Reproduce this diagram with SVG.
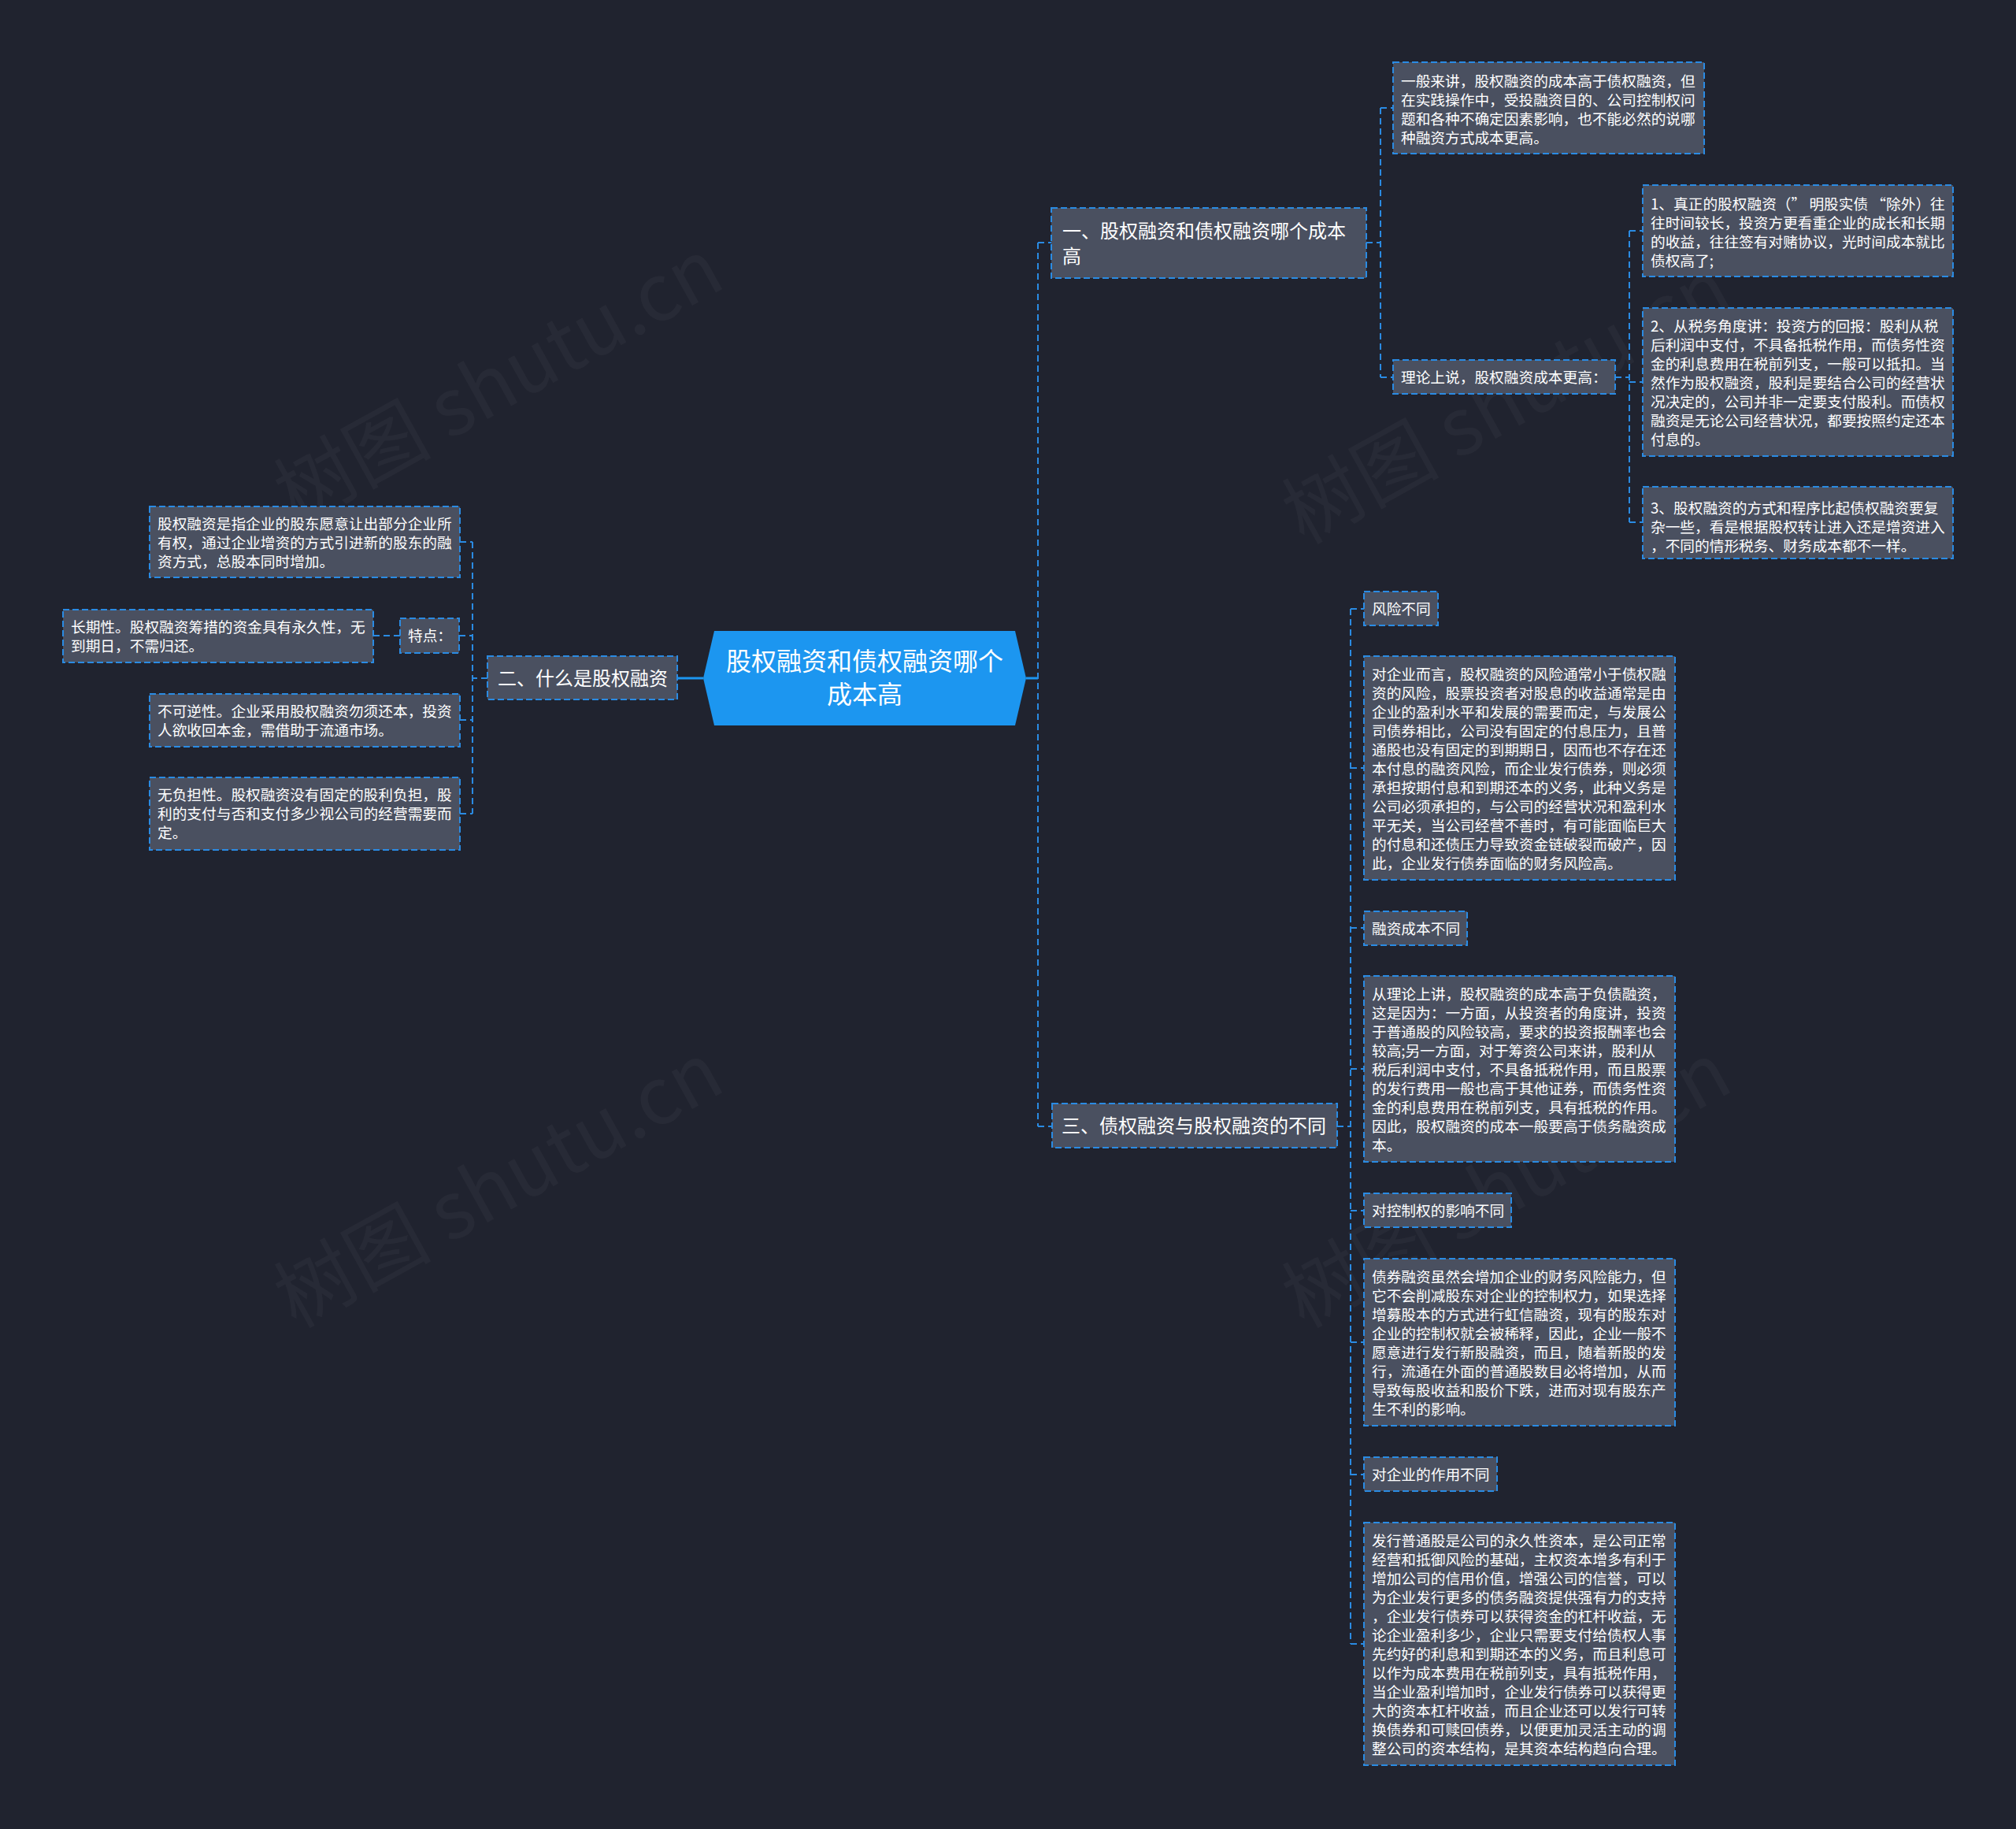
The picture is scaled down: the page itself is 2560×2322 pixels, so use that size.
<svg xmlns="http://www.w3.org/2000/svg" width="2560" height="2322" viewBox="0 0 2560 2322">
<style>
.bg{fill:#20232f}
.n rect{fill:#4a5060;stroke:#2a8be3;stroke-width:2;stroke-dasharray:8 4}
.t{font-family:"Noto Sans CJK SC","Noto Sans",sans-serif;fill:#ffffff;font-size:18.7px}
.m{font-family:"Noto Sans CJK SC","Noto Sans",sans-serif;fill:#ffffff;font-size:24px}
.r{font-family:"Noto Sans CJK SC","Noto Sans",sans-serif;fill:#ffffff;font-size:32px;text-anchor:middle}
.c path{fill:none;stroke:#2a8be3;stroke-width:2;stroke-dasharray:8 5}
.c path.s{stroke:#1c96f0;stroke-width:3;stroke-dasharray:none}
.w{font-family:"Noto Sans CJK SC","Noto Sans",sans-serif;font-size:100px;fill:#ffffff;fill-opacity:0.035}
</style>
<rect class="bg" x="0" y="0" width="2560" height="2322"/>
<g id="watermarks">
<text class="w" transform="translate(650,515) rotate(-29)" text-anchor="middle">树图 shutu.cn</text>
<text class="w" transform="translate(1930,540) rotate(-29)" text-anchor="middle">树图 shutu.cn</text>
<text class="w" transform="translate(650,1535) rotate(-29)" text-anchor="middle">树图 shutu.cn</text>
<text class="w" transform="translate(1930,1535) rotate(-29)" text-anchor="middle">树图 shutu.cn</text>
</g>
<g id="connectors" class="c">
<path class="s" d="M860,861 H893"/>
<path class="s" d="M1303,861 H1318"/>
<path d="M619,861 H600"/>
<path d="M600,688 V1033"/>
<path d="M584,688 H600"/>
<path d="M583,807 H600"/>
<path d="M584,914 H600"/>
<path d="M584,1033 H600"/>
<path d="M474,807 H508"/>
<path d="M1318,308 V1430"/>
<path d="M1318,308 H1335"/>
<path d="M1318,1430 H1336"/>
<path d="M1735,308 H1753"/>
<path d="M1753,137 V479"/>
<path d="M1753,137 H1769"/>
<path d="M1753,479 H1769"/>
<path d="M2051,479 H2069"/>
<path d="M2069,293 V663"/>
<path d="M2069,293 H2086"/>
<path d="M2069,485 H2086"/>
<path d="M2069,663 H2086"/>
<path d="M1698,1430 H1715"/>
<path d="M1715,773 V2087"/>
<path d="M1715,773 H1732"/>
<path d="M1715,975 H1732"/>
<path d="M1715,1178 H1732"/>
<path d="M1715,1357 H1732"/>
<path d="M1715,1537 H1732"/>
<path d="M1715,1704 H1732"/>
<path d="M1715,1872 H1732"/>
<path d="M1715,2087 H1732"/>
</g>
<g id="root">
<polygon points="893,861 907,801 1289,801 1303,861 1289,921 907,921" fill="#1c96f0"/>
<text class="r" x="1098" y="851">股权融资和债权融资哪个</text>
<text class="r" x="1098" y="893">成本高</text>
</g>
<g id="n-er" class="n">
<rect x="619" y="833" width="241" height="55"/>
<text class="m"><tspan x="632" y="870">二、什么是股权融资</tspan></text>
</g>
<g id="n-er-def" class="n">
<rect x="190" y="643" width="394" height="90"/>
<text class="t"><tspan x="200" y="672">股权融资是指企业的股东愿意让出部分企业所</tspan><tspan x="200" y="696">有权，通过企业增资的方式引进新的股东的融</tspan><tspan x="200" y="720">资方式，总股本同时增加。</tspan></text>
</g>
<g id="n-tedian" class="n">
<rect x="508" y="785" width="75" height="44"/>
<text class="t"><tspan x="518" y="814">特点：</tspan></text>
</g>
<g id="n-changqi" class="n">
<rect x="80" y="774" width="394" height="67"/>
<text class="t"><tspan x="90" y="803">长期性。股权融资筹措的资金具有永久性，无</tspan><tspan x="90" y="827">到期日，不需归还。</tspan></text>
</g>
<g id="n-bukeni" class="n">
<rect x="190" y="881" width="394" height="67"/>
<text class="t"><tspan x="200" y="910">不可逆性。企业采用股权融资勿须还本，投资</tspan><tspan x="200" y="934">人欲收回本金，需借助于流通市场。</tspan></text>
</g>
<g id="n-wufudan" class="n">
<rect x="190" y="987" width="394" height="92"/>
<text class="t"><tspan x="200" y="1016">无负担性。股权融资没有固定的股利负担，股</tspan><tspan x="200" y="1040">利的支付与否和支付多少视公司的经营需要而</tspan><tspan x="200" y="1064">定。</tspan></text>
</g>
<g id="n-yi" class="n">
<rect x="1335" y="264" width="400" height="89"/>
<text class="m"><tspan x="1349" y="302">一、股权融资和债权融资哪个成本</tspan><tspan x="1349" y="334">高</tspan></text>
</g>
<g id="n-yiban" class="n">
<rect x="1769" y="79" width="395" height="116"/>
<text class="t"><tspan x="1779" y="110">一般来讲，股权融资的成本高于债权融资，但</tspan><tspan x="1779" y="134">在实践操作中，受投融资目的、公司控制权问</tspan><tspan x="1779" y="158">题和各种不确定因素影响，也不能必然的说哪</tspan><tspan x="1779" y="182">种融资方式成本更高。</tspan></text>
</g>
<g id="n-lilun" class="n">
<rect x="1769" y="457" width="282" height="43"/>
<text class="t"><tspan x="1779" y="486">理论上说，股权融资成本更高：</tspan></text>
</g>
<g id="n-l1" class="n">
<rect x="2086" y="235" width="394" height="116"/>
<text class="t"><tspan x="2096" y="266">1、真正的股权融资（” 明股实债 “除外）往</tspan><tspan x="2096" y="290">往时间较长，投资方更看重企业的成长和长期</tspan><tspan x="2096" y="314">的收益，往往签有对赌协议，光时间成本就比</tspan><tspan x="2096" y="338">债权高了;</tspan></text>
</g>
<g id="n-l2" class="n">
<rect x="2086" y="391" width="394" height="188"/>
<text class="t"><tspan x="2096" y="421">2、从税务角度讲：投资方的回报：股利从税</tspan><tspan x="2096" y="445">后利润中支付，不具备抵税作用，而债务性资</tspan><tspan x="2096" y="469">金的利息费用在税前列支，一般可以抵扣。当</tspan><tspan x="2096" y="493">然作为股权融资，股利是要结合公司的经营状</tspan><tspan x="2096" y="517">况决定的，公司并非一定要支付股利。而债权</tspan><tspan x="2096" y="541">融资是无论公司经营状况，都要按照约定还本</tspan><tspan x="2096" y="565">付息的。</tspan></text>
</g>
<g id="n-l3" class="n">
<rect x="2086" y="618" width="394" height="91"/>
<text class="t"><tspan x="2096" y="652">3、股权融资的方式和程序比起债权融资要复</tspan><tspan x="2096" y="676">杂一些，看是根据股权转让进入还是增资进入</tspan><tspan x="2096" y="700">，不同的情形税务、财务成本都不一样。</tspan></text>
</g>
<g id="n-san" class="n">
<rect x="1336" y="1401" width="362" height="56"/>
<text class="m"><tspan x="1348" y="1438">三、债权融资与股权融资的不同</tspan></text>
</g>
<g id="n-s1" class="n">
<rect x="1732" y="751" width="94" height="43"/>
<text class="t"><tspan x="1742" y="780">风险不同</tspan></text>
</g>
<g id="n-s1d" class="n">
<rect x="1732" y="833" width="395" height="284"/>
<text class="t"><tspan x="1742" y="863">对企业而言，股权融资的风险通常小于债权融</tspan><tspan x="1742" y="887">资的风险，股票投资者对股息的收益通常是由</tspan><tspan x="1742" y="911">企业的盈利水平和发展的需要而定，与发展公</tspan><tspan x="1742" y="935">司债券相比，公司没有固定的付息压力，且普</tspan><tspan x="1742" y="959">通股也没有固定的到期期日，因而也不存在还</tspan><tspan x="1742" y="983">本付息的融资风险，而企业发行债券，则必须</tspan><tspan x="1742" y="1007">承担按期付息和到期还本的义务，此种义务是</tspan><tspan x="1742" y="1031">公司必须承担的，与公司的经营状况和盈利水</tspan><tspan x="1742" y="1055">平无关，当公司经营不善时，有可能面临巨大</tspan><tspan x="1742" y="1079">的付息和还债压力导致资金链破裂而破产，因</tspan><tspan x="1742" y="1103">此，企业发行债券面临的财务风险高。</tspan></text>
</g>
<g id="n-s2" class="n">
<rect x="1732" y="1157" width="131" height="43"/>
<text class="t"><tspan x="1742" y="1186">融资成本不同</tspan></text>
</g>
<g id="n-s2d" class="n">
<rect x="1732" y="1239" width="395" height="236"/>
<text class="t"><tspan x="1742" y="1269">从理论上讲，股权融资的成本高于负债融资，</tspan><tspan x="1742" y="1293">这是因为：一方面，从投资者的角度讲，投资</tspan><tspan x="1742" y="1317">于普通股的风险较高，要求的投资报酬率也会</tspan><tspan x="1742" y="1341">较高;另一方面，对于筹资公司来讲，股利从</tspan><tspan x="1742" y="1365">税后利润中支付，不具备抵税作用，而且股票</tspan><tspan x="1742" y="1389">的发行费用一般也高于其他证券，而债务性资</tspan><tspan x="1742" y="1413">金的利息费用在税前列支，具有抵税的作用。</tspan><tspan x="1742" y="1437">因此，股权融资的成本一般要高于债务融资成</tspan><tspan x="1742" y="1461">本。</tspan></text>
</g>
<g id="n-s3" class="n">
<rect x="1732" y="1515" width="187" height="43"/>
<text class="t"><tspan x="1742" y="1544">对控制权的影响不同</tspan></text>
</g>
<g id="n-s3d" class="n">
<rect x="1732" y="1598" width="395" height="212"/>
<text class="t"><tspan x="1742" y="1628">债券融资虽然会增加企业的财务风险能力，但</tspan><tspan x="1742" y="1652">它不会削减股东对企业的控制权力，如果选择</tspan><tspan x="1742" y="1676">增募股本的方式进行虹信融资，现有的股东对</tspan><tspan x="1742" y="1700">企业的控制权就会被稀释，因此，企业一般不</tspan><tspan x="1742" y="1724">愿意进行发行新股融资，而且，随着新股的发</tspan><tspan x="1742" y="1748">行，流通在外面的普通股数目必将增加，从而</tspan><tspan x="1742" y="1772">导致每股收益和股价下跌，进而对现有股东产</tspan><tspan x="1742" y="1796">生不利的影响。</tspan></text>
</g>
<g id="n-s4" class="n">
<rect x="1732" y="1850" width="169" height="43"/>
<text class="t"><tspan x="1742" y="1879">对企业的作用不同</tspan></text>
</g>
<g id="n-s4d" class="n">
<rect x="1732" y="1933" width="395" height="308"/>
<text class="t"><tspan x="1742" y="1963">发行普通股是公司的永久性资本，是公司正常</tspan><tspan x="1742" y="1987">经营和抵御风险的基础，主权资本增多有利于</tspan><tspan x="1742" y="2011">增加公司的信用价值，增强公司的信誉，可以</tspan><tspan x="1742" y="2035">为企业发行更多的债务融资提供强有力的支持</tspan><tspan x="1742" y="2059">，企业发行债券可以获得资金的杠杆收益，无</tspan><tspan x="1742" y="2083">论企业盈利多少，企业只需要支付给债权人事</tspan><tspan x="1742" y="2107">先约好的利息和到期还本的义务，而且利息可</tspan><tspan x="1742" y="2131">以作为成本费用在税前列支，具有抵税作用，</tspan><tspan x="1742" y="2155">当企业盈利增加时，企业发行债券可以获得更</tspan><tspan x="1742" y="2179">大的资本杠杆收益，而且企业还可以发行可转</tspan><tspan x="1742" y="2203">换债券和可赎回债券，以便更加灵活主动的调</tspan><tspan x="1742" y="2227">整公司的资本结构，是其资本结构趋向合理。</tspan></text>
</g>
</svg>
